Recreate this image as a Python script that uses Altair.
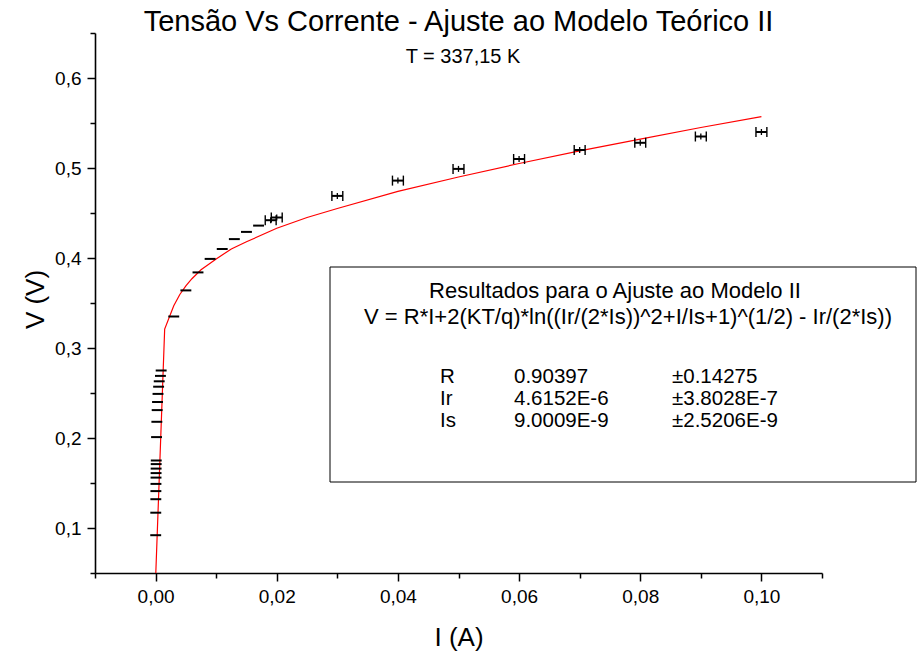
import altair as alt
import pandas as pd

# ---- measured points (I in A, V in V) ----
I_low = [0.00002, 0.00003, 0.00004, 0.00005, 0.00006, 0.00007, 0.00008, 0.00009,
         0.00010, 0.00011, 0.00016, 0.00021, 0.00026, 0.00032, 0.00040, 0.00050,
         0.00060, 0.00080, 0.00092]
V_low = [0.092, 0.117, 0.132, 0.141, 0.149, 0.156, 0.161, 0.166,
         0.171, 0.175, 0.201, 0.218, 0.231, 0.240, 0.249, 0.257,
         0.263, 0.269, 0.275]
I_mid = [0.003, 0.005, 0.007, 0.009, 0.011, 0.013, 0.015, 0.017, 0.019, 0.020]
V_mid = [0.335, 0.364, 0.384, 0.399, 0.410, 0.421, 0.429, 0.436, 0.442, 0.445]
I_high = [0.03, 0.04, 0.05, 0.06, 0.07, 0.08, 0.09, 0.10]
V_high = [0.469, 0.486, 0.499, 0.510, 0.520, 0.528, 0.535, 0.540]
dI = 0.0009  # horizontal error

# ---- fitted curve ----
fit_I = [0.00001, 0.0015, 0.003, 0.004, 0.005, 0.006, 0.0075, 0.010, 0.0125,
         0.015, 0.020, 0.025, 0.030, 0.040, 0.050, 0.060, 0.070, 0.080, 0.090, 0.100]
fit_V = [0.045, 0.321, 0.347, 0.3595, 0.369, 0.377, 0.387, 0.399, 0.410,
         0.418, 0.433, 0.445, 0.455, 0.474, 0.490, 0.505, 0.519, 0.532, 0.545, 0.557]

x_ticks = [-0.01, 0.0, 0.01, 0.02, 0.03, 0.04, 0.05, 0.06, 0.07, 0.08, 0.09, 0.10, 0.11]
y_ticks = [0.05, 0.10, 0.15, 0.20, 0.25, 0.30, 0.35, 0.40, 0.45, 0.50, 0.55, 0.60, 0.65]

title_txt = "Tensão Vs Corrente - Ajuste ao Modelo Teórico II"
subtitle_txt = "T = 337,15 K"
box_head = "Resultados para o Ajuste ao Modelo II"
box_formula = "V = R*I+2(KT/q)*ln((Ir/(2*Is))^2+I/Is+1)^(1/2) - Ir/(2*Is))"
par_names = ["R", "Ir", "Is"]
par_vals = ["0.90397", "4.6152E-6", "9.0009E-9"]
par_errs = ["±0.14275", "±3.8028E-7", "±2.5206E-9"]

FONT = "Liberation Sans"

pts = pd.DataFrame({"I": I_low + I_mid + I_high, "V": V_low + V_mid + V_high})
pts["lo"] = pts["I"] - dI
pts["hi"] = pts["I"] + dI
caps = pts[pts["I"] >= 0.019]
fit = pd.DataFrame({"I": fit_I, "V": fit_V})

xs = alt.Scale(domain=[-0.01, 0.11], nice=False, zero=False)
ys = alt.Scale(domain=[0.05, 0.65], nice=False, zero=False)

x_axis = alt.Axis(
    values=x_ticks,
    labelExpr="abs(round(datum.value*100)) % 2 == 0 ? replace(format(datum.value, '.2f'), '.', ',') : ''",
    tickSize={"condition": {"test": "abs(round(datum.value*100)) % 2 == 0", "value": 8}, "value": 5},
    title="I (A)", titleX=363.5, titleY=64, titleBaseline="middle", titleAlign="center",
    labelPadding=6,
)
y_axis = alt.Axis(
    values=y_ticks,
    labelExpr="round(datum.value*20) % 2 == 0 ? replace(format(datum.value, '.1f'), '.', ',') : ''",
    tickSize={"condition": {"test": "round(datum.value*20) % 2 == 0", "value": 8}, "value": 5},
    title="V (V)", titleX=-60, titleY=266, titleBaseline="middle", titleAlign="center", titleAngle=-90,
    labelPadding=6,
)

X = lambda f: alt.X(f"{f}:Q", scale=xs, axis=x_axis)
Y = lambda f: alt.Y(f"{f}:Q", scale=ys, axis=y_axis)

line = alt.Chart(fit).mark_line(color="#ff0000", strokeWidth=1.2, clip=True).encode(x=X("I"), y=Y("V"))

hbars = alt.Chart(pts).mark_rule(color="black", strokeWidth=2).encode(x=X("lo"), x2="hi", y=Y("V"))
cap_l = alt.Chart(caps).mark_rule(color="black", strokeWidth=1.4, yOffset=-5, y2Offset=5).encode(
    x=X("lo"), y=Y("V"), y2="V")
cap_r = alt.Chart(caps).mark_rule(color="black", strokeWidth=1.4, yOffset=-5, y2Offset=5).encode(
    x=X("hi"), y=Y("V"), y2="V")
vbar = alt.Chart(caps).mark_rule(color="black", strokeWidth=1.3, yOffset=-3, y2Offset=3).encode(
    x=X("I"), y=Y("V"), y2="V")

one = pd.DataFrame({"k": [0]})

def txt(s, x, y, size, align="left"):
    return alt.Chart(one).mark_text(font=FONT, fontSize=size, align=align, baseline="middle",
                                    color="black").encode(x=alt.value(x), y=alt.value(y), text=alt.value(s))

box = alt.Chart(one).mark_rect(fill="white", stroke="black", strokeWidth=1).encode(
    x=alt.value(235), x2=alt.value(821), y=alt.value(234), y2=alt.value(449))

texts = [
    txt(title_txt, 363.5, -11, 29, "center"),
    txt(subtitle_txt, 368, 24, 20, "center"),
    txt(box_head, 520, 258, 22, "center"),
    txt(box_formula, 533, 283.5, 22, "center"),
]
row_y = [343.5, 365.5, 387.5]
for n, v, e, yy in zip(par_names, par_vals, par_errs, row_y):
    texts += [txt(n, 345, yy, 20.5), txt(v, 419, yy, 20.5), txt(e, 577, yy, 20.5)]

chart = alt.layer(line, hbars, cap_l, cap_r, vbar, box, *texts).properties(
    width=727, height=540,
    autosize=alt.AutoSizeParams(type="none"),
    padding={"left": 95, "top": 33, "right": 95, "bottom": 82},
    background="white",
).configure_view(stroke=None).configure_axis(
    grid=False, domainColor="black", domainWidth=1.6, tickColor="black", tickWidth=1.5,
    labelColor="black", labelFont=FONT, labelFontSize=19, titleFont=FONT, titleFontSize=26,
    titleFontWeight="normal", titleColor="black",
)

chart.save("out.html", embed_options={"renderer": "svg", "actions": False})
